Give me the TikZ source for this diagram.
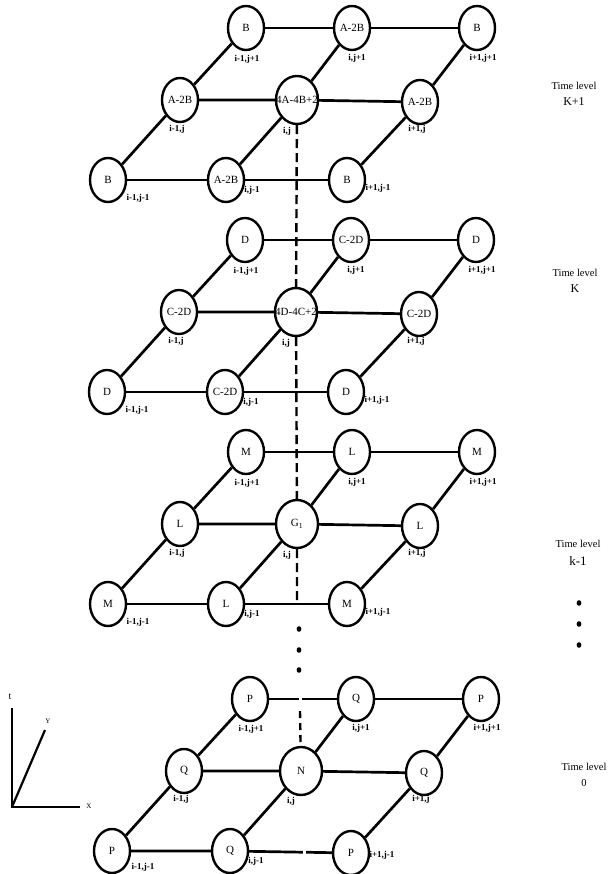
\documentclass[tikz,border=0pt]{standalone}
\usepackage{fontspec}
\setmainfont{Liberation Serif}
\usetikzlibrary{calc}
\usetikzlibrary{shapes.geometric}

\begin{document}
\begin{tikzpicture}[x=1pt, y=-1pt,
	grid/.style={draw, ellipse, line width=2.4pt, minimum width=36pt, minimum height=44pt, inner sep=0pt, font=\fontsize{11}{12}\selectfont},
	mid/.style={grid, minimum width=42pt, minimum height=48pt},
	idx/.style={inner sep=0pt, font=\bfseries\fontsize{9}{10}\selectfont},
	link/.style={line width=2.7pt},
	vline/.style={line width=2.4pt, dash pattern=on 9pt off 5pt},
	level/.style={align=center, inner sep=0pt, font=\fontsize{10.5}{16}\selectfont}]

	\useasboundingbox (0,0) rectangle (609,874);

	% Centres of the four time levels
	\coordinate (O1) at (297,100);
	\coordinate (O2) at (296,312);
	\coordinate (O3) at (297,524);
	\coordinate (O4) at (301,771);

	% Time level K+1
	\node[grid] (p-nw) at ($(O1)+(-51,-72)$) {B};
	\node[grid] (p-n) at ($(O1)+(55,-72)$) {A-2B};
	\node[grid] (p-ne) at ($(O1)+(180,-72)$) {B};
	\node[grid] (p-w) at ($(O1)+(-117,0)$) {A-2B};
	\node[mid] (p-c) at (O1) {\makebox[0pt]{4A-4B+2}};
	\node[grid] (p-e) at ($(O1)+(123,2)$) {A-2B};
	\node[grid] (p-sw) at ($(O1)+(-189,80)$) {B};
	\node[grid] (p-s) at ($(O1)+(-71,80)$) {A-2B};
	\node[grid] (p-se) at ($(O1)+(50,80)$) {B};
	\node[idx] (p-nw-l) at ($(p-nw)+(1,31)$) {i-1,j+1};
	\node[idx] (p-n-l) at ($(p-n)+(5,30)$) {i,j+1};
	\node[idx] (p-ne-l) at ($(p-ne)+(6,30)$) {i+1,j+1};
	\node[idx] (p-w-l) at ($(p-w)+(-3,29)$) {i-1,j};
	\node[idx] (p-c-l) at ($(p-c)+(-10,31)$) {i,j};
	\node[idx] (p-e-l) at ($(p-e)+(-3,27)$) {i+1,j};
	\node[idx] (p-sw-l) at ($(p-sw)+(30,18)$) {i-1,j-1};
	\node[idx] (p-s-l) at ($(p-s)+(26,10)$) {i,j-1};
	\node[idx] (p-se-l) at ($(p-se)+(31,8)$) {i+1,j-1};
	\draw[link] (p-nw) -- (p-n) -- (p-ne);
	\draw[link] (p-w) -- (p-c) -- (p-e);
	\draw[link] (p-sw) -- (p-s) -- (p-se);
	\draw[link] (p-sw) -- (p-w) -- (p-nw);
	\draw[link] (p-s) -- (p-c) -- (p-n);
	\draw[link] (p-se) -- (p-e) -- (p-ne);

	% Time level K
	\node[grid] (k-nw) at ($(O2)+(-51,-72)$) {D};
	\node[grid] (k-n) at ($(O2)+(55,-72)$) {C-2D};
	\node[grid] (k-ne) at ($(O2)+(180,-72)$) {D};
	\node[grid] (k-w) at ($(O2)+(-117,0)$) {C-2D};
	\node[mid] (k-c) at (O2) {\makebox[0pt]{4D-4C+2}};
	\node[grid] (k-e) at ($(O2)+(123,2)$) {C-2D};
	\node[grid] (k-sw) at ($(O2)+(-189,80)$) {D};
	\node[grid] (k-s) at ($(O2)+(-71,80)$) {C-2D};
	\node[grid] (k-se) at ($(O2)+(50,80)$) {D};
	\node[idx] (k-nw-l) at ($(k-nw)+(1,31)$) {i-1,j+1};
	\node[idx] (k-n-l) at ($(k-n)+(5,30)$) {i,j+1};
	\node[idx] (k-ne-l) at ($(k-ne)+(6,30)$) {i+1,j+1};
	\node[idx] (k-w-l) at ($(k-w)+(-3,29)$) {i-1,j};
	\node[idx] (k-c-l) at ($(k-c)+(-10,31)$) {i,j};
	\node[idx] (k-e-l) at ($(k-e)+(-3,27)$) {i+1,j};
	\node[idx] (k-sw-l) at ($(k-sw)+(30,18)$) {i-1,j-1};
	\node[idx] (k-s-l) at ($(k-s)+(26,10)$) {i,j-1};
	\node[idx] (k-se-l) at ($(k-se)+(31,8)$) {i+1,j-1};
	\draw[link] (k-nw) -- (k-n) -- (k-ne);
	\draw[link] (k-w) -- (k-c) -- (k-e);
	\draw[link] (k-sw) -- (k-s) -- (k-se);
	\draw[link] (k-sw) -- (k-w) -- (k-nw);
	\draw[link] (k-s) -- (k-c) -- (k-n);
	\draw[link] (k-se) -- (k-e) -- (k-ne);

	% Time level k-1
	\node[grid] (m-nw) at ($(O3)+(-51,-72)$) {M};
	\node[grid] (m-n) at ($(O3)+(55,-72)$) {L};
	\node[grid] (m-ne) at ($(O3)+(180,-72)$) {M};
	\node[grid] (m-w) at ($(O3)+(-117,0)$) {L};
	\node[mid] (m-c) at (O3) {G\textsubscript{1}};
	\node[grid] (m-e) at ($(O3)+(123,2)$) {L};
	\node[grid] (m-sw) at ($(O3)+(-189,80)$) {M};
	\node[grid] (m-s) at ($(O3)+(-71,80)$) {L};
	\node[grid] (m-se) at ($(O3)+(50,80)$) {M};
	\node[idx] (m-nw-l) at ($(m-nw)+(1,31)$) {i-1,j+1};
	\node[idx] (m-n-l) at ($(m-n)+(5,30)$) {i,j+1};
	\node[idx] (m-ne-l) at ($(m-ne)+(6,30)$) {i+1,j+1};
	\node[idx] (m-w-l) at ($(m-w)+(-3,29)$) {i-1,j};
	\node[idx] (m-c-l) at ($(m-c)+(-10,31)$) {i,j};
	\node[idx] (m-e-l) at ($(m-e)+(-3,27)$) {i+1,j};
	\node[idx] (m-sw-l) at ($(m-sw)+(30,18)$) {i-1,j-1};
	\node[idx] (m-s-l) at ($(m-s)+(26,10)$) {i,j-1};
	\node[idx] (m-se-l) at ($(m-se)+(31,8)$) {i+1,j-1};
	\draw[link] (m-nw) -- (m-n) -- (m-ne);
	\draw[link] (m-w) -- (m-c) -- (m-e);
	\draw[link] (m-sw) -- (m-s) -- (m-se);
	\draw[link] (m-sw) -- (m-w) -- (m-nw);
	\draw[link] (m-s) -- (m-c) -- (m-n);
	\draw[link] (m-se) -- (m-e) -- (m-ne);

	% Time level 0
	\node[grid] (z-nw) at ($(O4)+(-51,-72)$) {P};
	\node[grid] (z-n) at ($(O4)+(55,-72)$) {Q};
	\node[grid] (z-ne) at ($(O4)+(180,-72)$) {P};
	\node[grid] (z-w) at ($(O4)+(-117,0)$) {Q};
	\node[mid] (z-c) at (O4) {N};
	\node[grid] (z-e) at ($(O4)+(123,2)$) {Q};
	\node[grid] (z-sw) at ($(O4)+(-189,80)$) {P};
	\node[grid] (z-s) at ($(O4)+(-71,80)$) {Q};
	\node[grid] (z-se) at ($(O4)+(50,82)$) {P};
	\node[idx] (z-nw-l) at ($(z-nw)+(1,30)$) {i-1,j+1};
	\node[idx] (z-n-l) at ($(z-n)+(5,29)$) {i,j+1};
	\node[idx] (z-ne-l) at ($(z-ne)+(6,29)$) {i+1,j+1};
	\node[idx] (z-w-l) at ($(z-w)+(-3,28)$) {i-1,j};
	\node[idx] (z-c-l) at ($(z-c)+(-10,30)$) {i,j};
	\node[idx] (z-e-l) at ($(z-e)+(-3,26)$) {i+1,j};
	\node[idx] (z-sw-l) at ($(z-sw)+(31,16)$) {i-1,j-1};
	\node[idx] (z-s-l) at ($(z-s)+(26,10)$) {i,j-1};
	\node[idx] (z-se-l) at ($(z-se)+(31,2)$) {i+1,j-1};
	\draw[link] (z-nw) -- (z-n) -- (z-ne);
	\draw[link] (z-w) -- (z-c) -- (z-e);
	\draw[link] (z-sw) -- (z-s) -- (z-se);
	\draw[link] (z-sw) -- (z-w) -- (z-nw);
	\draw[link] (z-s) -- (z-c) -- (z-n);
	\draw[link] (z-se) -- (z-e) -- (z-ne);
	\draw[white, line width=3pt] ($(O4)+(-1,-77)$) -- ($(O4)+(-1,-67)$);
	\draw[white, line width=3pt] ($(O4)+(3,76)$) -- ($(O4)+(3,86)$);

	% Vertical line through the i,j nodes
	\coordinate (m-end) at ($(O3)+(0,80)$);
	\coordinate (z-top) at ($(O4)+(-1,-60)$);
	\draw[vline] (p-c) -- (k-c) -- (m-c) -- (m-end);
	\draw[vline, dash pattern=on 7pt off 5pt] (z-top) -- (z-c);
	\fill (299,629) ellipse (2.4pt and 2.8pt);
	\fill (299,650) ellipse (2.4pt and 2.8pt);
	\fill (299,670) ellipse (2.4pt and 2.8pt);

	% Time levels
	\node[level] (lev1) at (574,94) {Time level\\{\fontsize{12}{12}\selectfont K+1}};
	\node[level] (lev2) at (575,281) {Time level\\{\fontsize{12}{12}\selectfont K}};
	\node[level] (lev3) at (578,553) {Time level\\[2pt]{\fontsize{13}{13}\selectfont k-1}};
	\node[level] (lev4) at (584,775) {Time level\\0};
	\fill (579,603) ellipse (2.4pt and 2.8pt);
	\fill (579,624) ellipse (2.4pt and 2.8pt);
	\fill (579,645) ellipse (2.4pt and 2.8pt);

	% Axes
	\coordinate (ax-o) at (12,807);
	\coordinate (ax-t) at (12,708);
	\coordinate (ax-y) at (45,730);
	\coordinate (ax-x) at (80,807);
	\draw[line width=2.8pt] (ax-t) -- (ax-o) -- (ax-x);
	\draw[line width=2.2pt] (ax-o) -- (ax-y);
	\node (t-lab) at (10,697) {t};
	\node[font=\fontsize{7}{8}\selectfont] (y-lab) at (48,721) {Y};
	\node[font=\fontsize{7}{8}\selectfont] (x-lab) at (89,806) {X};
\end{tikzpicture}
\end{document}
